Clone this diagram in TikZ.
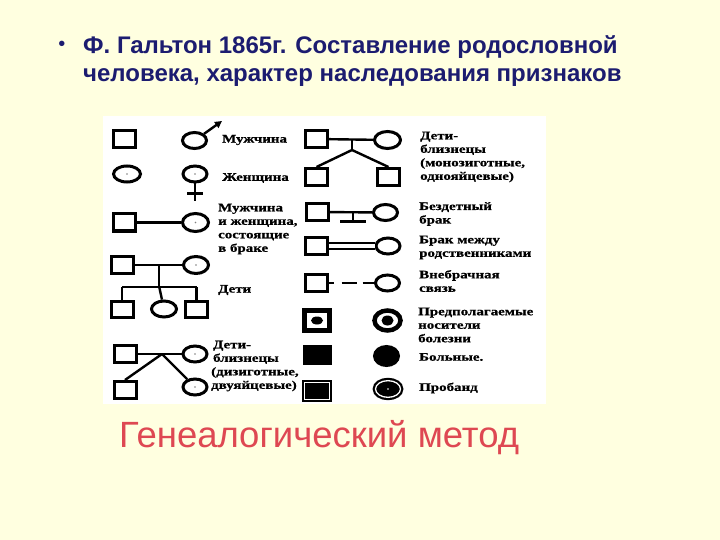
\documentclass[tikz,border=0pt]{standalone}
\usepackage{fontspec}
\setmainfont{Liberation Sans}
\newfontfamily\legendfont[FakeStretch=1.3,FakeBold=0.8]{Liberation Serif}
\usetikzlibrary{shapes.geometric,arrows.meta,calc}
\definecolor{slidebg}{RGB}{255,255,224}
\definecolor{titleblue}{RGB}{28,28,112}
\definecolor{methodred}{RGB}{222,72,82}

\begin{document}
\begin{tikzpicture}[x=1pt, y=-1pt,
    sq/.style={rectangle, draw, line width=3pt, minimum width=22pt, minimum height=17pt, inner sep=0pt},
    ov/.style={ellipse, draw, line width=3pt, minimum width=24pt, minimum height=16pt, inner sep=0pt},
    link/.style={line width=2.4pt},
    proband/.style={fill=black, line width=2.2pt, double=white, double distance=1.3pt},
    legend/.style={anchor=west, align=left, inner sep=0pt, font=\legendfont\bfseries\fontsize{11.5}{13.5}\selectfont}
]
    % slide and white panel
    \fill[slidebg] (0,0) rectangle (720,540);
    \fill[white] (103,116) rectangle (546,404);
    \useasboundingbox (0,0) rectangle (720,540);

    \node[text=titleblue, font=\fontsize{20}{20}\selectfont] (bullet) at (62,46) {•};
    \node[text=titleblue, font=\bfseries\fontsize{24}{28}\selectfont, anchor=base west, inner sep=0pt] (title) at (83,54) {Ф. Гальтон 1865г. Составление родословной};
    \node[text=titleblue, font=\bfseries\fontsize{24}{28}\selectfont, anchor=base west, inner sep=0pt] (title2) at (83,82) {человека, характер наследования признаков};

    % left column
    \node[sq] (man) at (124.5,139) {};
    \node[ov] (male) at (194.5,140.5) {};
    \coordinate (maletip) at (222,121);
    \draw[link, -{Triangle[length=7pt,width=7pt]}] (male.35) -- (maletip);
    \node[legend] (lblman) at (222,140) {Мужчина};

    \node[ov, minimum width=27pt] (woman) at (127,174) {};
    \node[ov] (female) at (195,174) {};
    \draw[link] (female.south) -- ++(0,18);
    \draw[link] ($(female.south)+(-8,10)$) -- ++(16,0);
    \node[legend] (lblwoman) at (222,178) {Женщина};

    \node[sq] (husband) at (124.5,222.5) {};
    \node[ov, minimum width=26pt, minimum height=18pt] (wife) at (195.5,222.5) {};
    \draw[link] (husband) -- (wife);
    \node[legend] (lblmarried) at (218,229) {Мужчина\\и женщина,\\состоящие\\в браке};

    \node[sq] (father) at (122.5,265) {};
    \node[ov, minimum width=25pt, minimum height=17pt] (mother) at (196,265) {};
    \draw[link] (father) -- (mother);
    \node[sq, minimum height=16pt] (son1) at (122,309) {};
    \node[ov, minimum width=25pt, minimum height=16pt] (daughter) at (164,309) {};
    \node[sq, minimum height=16pt] (son2) at (196.5,309) {};
    \coordinate (famjoin) at ($(father)!0.5!(mother)$);
    \coordinate (sibline) at (161,287);
    \draw[link] (famjoin) -- (famjoin |- sibline);
    \draw[link] (son1 |- sibline) -- (son2 |- sibline);
    \draw[link] (son1 |- sibline) -- (son1);
    \draw[link] (famjoin |- sibline) -- (daughter);
    \draw[link] (son2 |- sibline) -- (son2);
    \node[legend] (lblkids) at (218,290) {Дети};

    \node[sq] (dzfather) at (125,354) {};
    \node[ov] (dzmother) at (195,354) {};
    \draw[link] (dzfather) -- (dzmother);
    \coordinate (dzjoin) at (162,354);
    \node[sq] (dztwin1) at (125,390) {};
    \node[ov] (dztwin2) at (195,387) {};
    \draw[link] (dzjoin) -- (dztwin1.north);
    \draw[link] (dzjoin) -- (dztwin2);
    \node[legend] (lbldz) at (211,366) {\,Дети-\\\,близнецы\\(дизиготные,\\двуяйцевые)};

    % right column
    \node[sq] (mzfather) at (316.5,139) {};
    \node[ov, minimum width=26pt, minimum height=17pt] (mzmother) at (387.5,140) {};
    \draw[link] (mzfather) -- (mzmother);
    \coordinate (mzjoin) at (352,140);
    \coordinate (mzfork) at (352,150);
    \node[sq] (mztwin1) at (316.5,177) {};
    \node[sq] (mztwin2) at (388.5,177) {};
    \draw[link] (mzjoin) -- (mzfork);
    \draw[link] (mzfork) -- (mztwin1.north);
    \draw[link] (mzfork) -- (mztwin2.north);
    \node[legend] (lblmz) at (420,157) {Дети-\\близнецы\\(монозиготные,\\однояйцевые)};

    \node[sq] (cfman) at (317,212) {};
    \node[ov] (cfwoman) at (385.5,212.5) {};
    \draw[link] (cfman) -- (cfwoman);
    \coordinate (cfjoin) at (353,212);
    \coordinate (cfstop) at (353,222);
    \draw[link] (cfjoin) -- (cfstop);
    \draw[line width=3pt] ($(cfstop)+(-13,0)$) -- ++(26,0);
    \node[legend] (lblchildless) at (419,214) {Бездетный\\брак};

    \node[sq] (kinman) at (316,246) {};
    \node[ov] (kinwoman) at (388,246) {};
    \draw[line width=2pt, double, double distance=3.5pt] (kinman) -- (kinwoman);
    \node[legend] (lblkin) at (419,247.5) {Брак между\\родственниками};

    \node[sq] (affman) at (316,283) {};
    \node[ov] (affwoman) at (387.5,283) {};
    \draw[link, dash pattern=on 5pt off 8pt on 15pt off 6pt on 14pt] (affman) -- (affwoman);
    \node[legend] (lblaffair) at (419,281) {Внебрачная\\связь};

    \node[sq, line width=4.5pt, minimum width=25pt, minimum height=20pt] (carman) at (317,320.5) {};
    \fill (carman) ellipse (6 and 4);
    \node[ov, line width=4.5pt, minimum width=26pt, minimum height=20pt] (carwoman) at (387.5,320.5) {};
    \fill (carwoman) ellipse (6 and 5);
    \node[legend] (lblcarrier) at (418,325) {Предполагаемые\\носители\\болезни};

    \node[sq, fill=black, minimum width=26pt] (sickman) at (317.5,355) {};
    \node[ov, fill=black, minimum height=19pt] (sickwoman) at (386.5,356) {};
    \node[legend] (lblsick) at (419,357) {Больные.};

    \node[sq, proband, minimum width=25pt, minimum height=16.7pt] (probman) at (317,391) {};
    \node[ov, proband, minimum width=25pt, minimum height=16.7pt] (probwoman) at (388,389) {};
    \fill[white] (probwoman) circle (0.9);
    \node[legend] (lblproband) at (419,388) {Пробанд};

    % centre marks
    \foreach \c in {woman,female,wife,mother,dzmother,dztwin2}
        \fill[gray] (\c) circle (0.8);

    \node[text=methodred, font=\fontsize{36.5}{36.5}\selectfont, anchor=base west, inner sep=0pt] (method) at (119,447) {Генеалогический метод};
\end{tikzpicture}
\end{document}
